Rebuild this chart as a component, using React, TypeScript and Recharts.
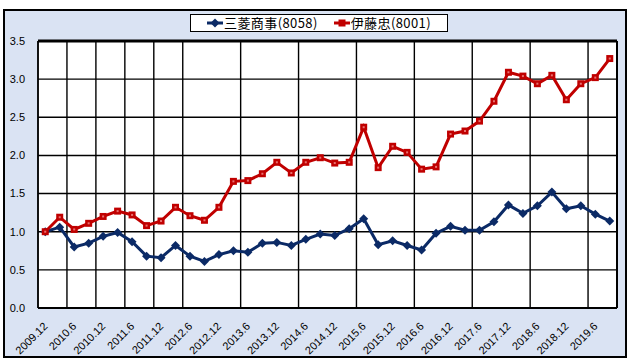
import React from "react";
import { LineChart, Line, XAxis, YAxis, CartesianGrid, ReferenceLine } from "recharts";

const categories = [
  "2009.12", "2010.3", "2010.6", "2010.9", "2010.12", "2011.3", "2011.6", "2011.9",
  "2011.12", "2012.3", "2012.6", "2012.9", "2012.12", "2013.3", "2013.6", "2013.9",
  "2013.12", "2014.3", "2014.6", "2014.9", "2014.12", "2015.3", "2015.6", "2015.9",
  "2015.12", "2016.3", "2016.6", "2016.9", "2016.12", "2017.3", "2017.6", "2017.9",
  "2017.12", "2018.3", "2018.6", "2018.9", "2018.12", "2019.3", "2019.6", "2019.9",
];

const mitsubishi = [
  1.0, 1.06, 0.8, 0.85, 0.94, 0.99, 0.87, 0.68, 0.66, 0.82,
  0.68, 0.61, 0.7, 0.75, 0.73, 0.85, 0.86, 0.82, 0.9, 0.97,
  0.95, 1.04, 1.17, 0.83, 0.88, 0.82, 0.76, 0.98, 1.07, 1.02,
  1.02, 1.13, 1.35, 1.24, 1.34, 1.52, 1.3, 1.34, 1.23, 1.14,
];

const itochu = [
  1.0, 1.19, 1.03, 1.11, 1.2, 1.27, 1.22, 1.08, 1.14, 1.32,
  1.21, 1.15, 1.32, 1.66, 1.67, 1.76, 1.91, 1.77, 1.91, 1.97,
  1.9, 1.91, 2.37, 1.84, 2.12, 2.04, 1.82, 1.85, 2.28, 2.32,
  2.45, 2.71, 3.09, 3.04, 2.94, 3.05, 2.73, 2.94, 3.02, 3.27,
];

const yTicks = [0, 0.5, 1.0, 1.5, 2.0, 2.5, 3.0, 3.5];

const BLUE = "#0B2A66";
const RED = "#C00000";
const FONT = "'Liberation Sans', Arial, sans-serif";

const data = categories.map((c, i) => ({ i, label: c, m: mitsubishi[i], t: itochu[i] }));
const labelTicks = categories.map((_, i) => i).filter((i) => i % 2 === 0);
const gridTicks = labelTicks.slice(1).map((i) => i - 0.5);

function Diamond(props: any) {
  const { cx, cy } = props;
  if (cx == null || cy == null) return null;
  const r = 4.5;
  return <polygon points={`${cx},${cy - r} ${cx + r},${cy} ${cx},${cy + r} ${cx - r},${cy}`} fill={BLUE} />;
}

function Square(props: any) {
  const { cx, cy } = props;
  if (cx == null || cy == null) return null;
  return (
    <g>
      <rect x={cx - 3.5} y={cy - 3.5} width={7} height={7} fill={RED} />
      <rect x={cx - 1} y={cy - 1} width={2} height={2} fill="#E87070" />
    </g>
  );
}

function XTick(props: any) {
  const { x, y, payload } = props;
  return (
    <g transform={`translate(${x + 3},${y + 17})`}>
      <text textAnchor="end" transform="rotate(-45)" fontSize={11} fontFamily={FONT} fill="#000">
        {categories[payload.value]}
      </text>
    </g>
  );
}

function LegendItem({ color, name, square }: { color: string; name: string; square: boolean }) {
  return (
    <span style={{ display: "inline-flex", alignItems: "center", margin: "0 8px" }}>
      <svg width={16} height={10} style={{ marginRight: 1 }}>
        <line x1={0} y1={5} x2={16} y2={5} stroke={color} strokeWidth={3} />
        {square ? (
          <rect x={4.5} y={1.5} width={7} height={7} fill={color} />
        ) : (
          <polygon points="8,0.5 12.5,5 8,9.5 3.5,5" fill={color} />
        )}
      </svg>
      <span style={{ letterSpacing: 0.4 }}>{name}</span>
    </span>
  );
}

export default function App() {
  return (
    <div style={{ position: "absolute", left: 0, top: 0, width: 640, height: 360, background: "#fff" }}>
      <div
        style={{
          position: "absolute",
          left: 3,
          top: 9,
          width: 624,
          height: 349,
          boxSizing: "border-box",
          border: "2px solid #000",
          background: "#DAE3F3",
        }}
      />
      <div style={{ position: "absolute", left: 0, top: 0 }}>
        <LineChart width={640} height={360} data={data} margin={{ top: 41, right: 23, bottom: 0, left: 0 }}>
          <XAxis xAxisId="grid" type="number" dataKey="i" domain={[-0.5, 39.5]} ticks={gridTicks} hide />
          <CartesianGrid xAxisId="grid" stroke="#000" strokeWidth={1.4} fill="#fff" fillOpacity={1} />
          <XAxis
            type="number"
            dataKey="i"
            domain={[-0.5, 39.5]}
            ticks={labelTicks}
            interval={0}
            tick={<XTick />}
            tickLine={false}
            tickSize={0}
            height={52}
            axisLine={{ stroke: "#000", strokeWidth: 2 }}
          />
          <YAxis
            domain={[0, 3.5]}
            ticks={yTicks}
            width={38}
            tickFormatter={(v: number) => v.toFixed(1)}
            tick={{ fill: "#000", fontSize: 11, fontFamily: FONT }}
            tickLine={false}
            tickSize={0}
            tickMargin={13}
            axisLine={{ stroke: "#000", strokeWidth: 1.5 }}
          />
          <ReferenceLine y={3.5} stroke="#000" strokeWidth={3} />
          <ReferenceLine x={39.5} stroke="#000" strokeWidth={2} />
          <Line
            dataKey="m"
            name="三菱商事(8058)"
            stroke={BLUE}
            strokeWidth={3}
            dot={<Diamond />}
            activeDot={false}
            isAnimationActive={false}
          />
          <Line
            dataKey="t"
            name="伊藤忠(8001)"
            stroke={RED}
            strokeWidth={3}
            dot={<Square />}
            activeDot={false}
            isAnimationActive={false}
          />
        </LineChart>
      </div>
      <div
        style={{
          position: "absolute",
          left: 190,
          top: 14,
          width: 258,
          height: 18,
          boxSizing: "border-box",
          border: "1px solid #000",
          background: "#fff",
          display: "flex",
          alignItems: "center",
          justifyContent: "center",
          fontFamily: "'Noto Sans CJK JP', sans-serif",
          fontSize: 13,
          lineHeight: "16px",
          color: "#000",
        }}
      >
        <LegendItem color={BLUE} name="三菱商事(8058)" square={false} />
        <LegendItem color={RED} name="伊藤忠(8001)" square={true} />
      </div>
    </div>
  );
}
